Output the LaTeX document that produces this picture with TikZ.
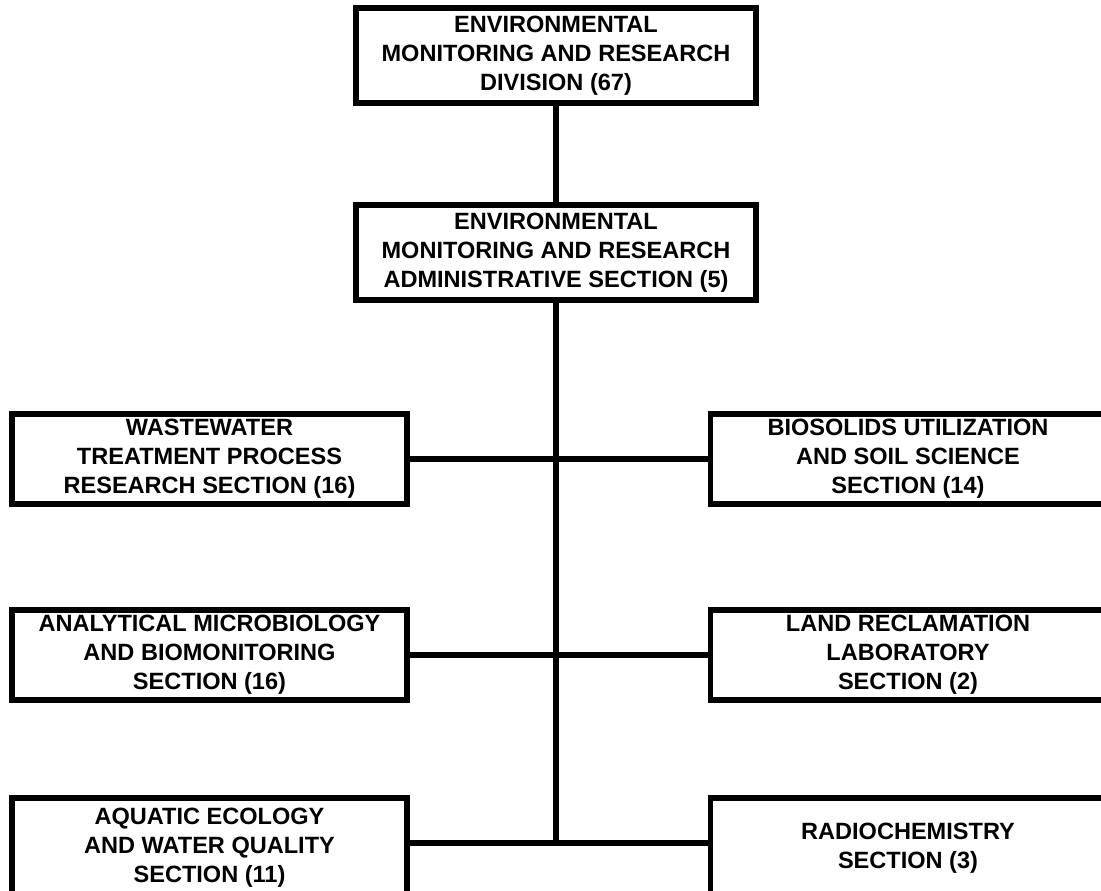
\documentclass[tikz,border=0pt]{standalone}
\usepackage{fontspec}
\setmainfont{Liberation Sans}
\usepackage{tikz}
\usetikzlibrary{positioning}

\begin{document}
\begin{tikzpicture}[
    unit/.style={draw, line width=3.1pt, fill=white, align=center,
        font=\fontsize{13.4}{16.5}\selectfont\bfseries,
        minimum width=7.9cm, minimum height=1.8cm, inner sep=0pt},
    link/.style={line width=3.1pt}]
\useasboundingbox (0,0) rectangle (22.02,-17.8);
\clip (0,0) rectangle (22.02,-17.8);
% division and its administrative section
\node[unit, minimum width=8cm, minimum height=1.9cm] (division) at (11.12,-1.11)
    {ENVIRONMENTAL\\MONITORING AND RESEARCH\\DIVISION (67)};
\node[unit, minimum width=8cm, minimum height=1.9cm] (admin) at (11.12,-5.05)
    {ENVIRONMENTAL\\MONITORING AND RESEARCH\\ADMINISTRATIVE SECTION (5)};
% sections on both sides of the trunk
\foreach \name/\x/\y/\text in {
    wastewater/4.19/-9.18/{WASTEWATER\\TREATMENT PROCESS\\RESEARCH SECTION (16)},
    biosolids/18.16/-9.18/{BIOSOLIDS UTILIZATION\\AND SOIL SCIENCE\\SECTION (14)},
    microbio/4.19/-13.10/{ANALYTICAL MICROBIOLOGY\\AND BIOMONITORING\\SECTION (16)},
    landrec/18.16/-13.10/{LAND RECLAMATION\\LABORATORY\\SECTION (2)}} {
    \node[unit] (\name) at (\x,\y) {\text};
}
% bottom row runs off the page
\node[unit, minimum height=2cm] (aquatic) at (4.19,-16.96)
    {AQUATIC ECOLOGY\\AND WATER QUALITY\\SECTION (11)};
\node[unit, minimum height=2cm] (radiochem) at (18.16,-16.96)
    {RADIOCHEMISTRY\\SECTION (3)};
\coordinate (base) at ([yshift=1mm]aquatic.east);
% trunk and branches
\draw[link] (division) -- (admin);
\draw[link] (admin.south) -- (admin.south |- base);
\draw[link] (wastewater) -- (biosolids);
\draw[link] (microbio) -- (landrec);
\draw[link] (base) -- (base -| radiochem.west);
\end{tikzpicture}
\end{document}
